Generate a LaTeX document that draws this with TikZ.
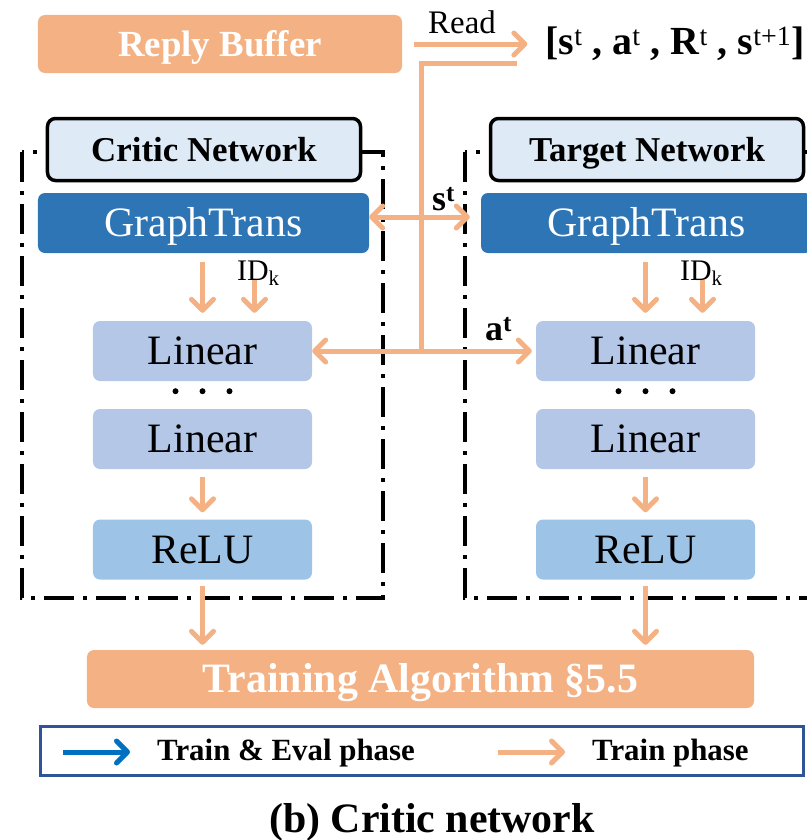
\documentclass[tikz,border=0pt]{standalone}
\usepackage{fontspec}
\setmainfont{Liberation Serif}
\usetikzlibrary{calc,arrows.meta,positioning}

\definecolor{bufOrange}{HTML}{F4B183}
\definecolor{gtBlue}{HTML}{2E75B6}
\definecolor{linBlue}{HTML}{B4C7E7}
\definecolor{reluBlue}{HTML}{9DC3E6}
\definecolor{titleBlue}{HTML}{DEEBF7}
\definecolor{evalBlue}{HTML}{0070C0}
\definecolor{legBorder}{HTML}{2F5597}

\newcommand{\fsz}[1]{\fontsize{#1}{#1}\selectfont}

\begin{document}
\begin{tikzpicture}[x=1bp, y=-1bp, inner sep=0pt,
    >={Straight Barb[length=11bp,width=22bp,round]},
    flow/.style={draw=bufOrange, line width=5bp},
    evalflow/.style={draw=evalBlue, line width=5bp},
    netframe/.style={draw=black, line width=4bp, dash pattern=on 30bp off 9bp on 4bp off 9bp},
    % caps are centred in the box: text height = cap height, no depth
    capbox/.style={text height=#1, text depth=0pt},
    nettitle/.style={capbox=23bp, draw=black, line width=3.5bp, fill=titleBlue, rounded corners=8bp,
        minimum width=313bp, minimum height=62bp, font=\fsz{35}\bfseries},
    gtbox/.style={capbox=27.7bp, fill=gtBlue, text=white, rounded corners=7bp,
        minimum width=331bp, minimum height=60bp, font=\fsz{42}},
    linbox/.style={capbox=27.7bp, fill=linBlue, rounded corners=7bp,
        minimum width=219bp, minimum height=60bp, font=\fsz{42}},
    relubox/.style={linbox, fill=reluBlue},
    orangebox/.style={fill=bufOrange, text=white, rounded corners=7bp, font=\bfseries}]
    \useasboundingbox (0,0) rectangle (807,840);

    % replay buffer and the sampled transition
    \node[orangebox, capbox=24.4bp, minimum width=364bp, minimum height=58bp, font=\fsz{37}\bfseries] (buffer) at (220,44) {Reply Buffer};
    \node[font=\fsz{40}] (tuple) at (675,44) {\textbf{[s}\textsuperscript{t}\textbf{ , a}\textsuperscript{t}\textbf{ , R}\textsuperscript{t}\textbf{ , s}\textsuperscript{t+1}\textbf{]}};
    \node[anchor=base, font=\fsz{33}] (read) at (462,33) {Read};
    \draw[flow, ->, shorten <=12bp, shorten >=18bp] (buffer.east) -- (tuple.west);

    % critic and target columns
    \coordinate (cn) at (203,0);
    \coordinate (tn) at (646,0);

    \draw[netframe] ($(cn)+(-181,152)$) rectangle ($(cn)+(180,598)$);
    \node[nettitle] (cTitle) at ($(cn)+(1,149.5)$) {Critic Network};
    \node[gtbox] (cGT) at ($(cn)+(0.5,223)$) {GraphTrans};
    \node[linbox] (cLin1) at ($(cn)+(-0.5,351)$) {Linear};
    \node[linbox] (cLin2) at ($(cn)+(-0.5,439)$) {Linear};
    \node[relubox] (cReLU) at ($(cn)+(-0.5,549.5)$) {ReLU};
    \node[anchor=base west, font=\fsz{30}] (cID) at ($(cn)+(34,280)$) {ID\textsubscript{k}};
    \foreach \dx in {-27,0,27}
        \fill ($(cLin1.south)+(\dx,10)$) circle (3bp);

    \draw[netframe] ($(tn)+(-181,152)$) rectangle ($(tn)+(180,598)$);
    \node[nettitle] (tTitle) at ($(tn)+(1,149.5)$) {Target Network};
    \node[gtbox] (tGT) at ($(tn)+(0.5,223)$) {GraphTrans};
    \node[linbox] (tLin1) at ($(tn)+(-0.5,351)$) {Linear};
    \node[linbox] (tLin2) at ($(tn)+(-0.5,439)$) {Linear};
    \node[relubox] (tReLU) at ($(tn)+(-0.5,549.5)$) {ReLU};
    \node[anchor=base west, font=\fsz{30}] (tID) at ($(tn)+(34,280)$) {ID\textsubscript{k}};
    \foreach \dx in {-27,0,27}
        \fill ($(tLin1.south)+(\dx,10)$) circle (3bp);

    \node[orangebox, capbox=27.7bp, minimum width=667bp, minimum height=58bp, font=\fsz{42}\bfseries] (train) at (420.5,679) {Training Algorithm §5.5};

    % arrows inside both columns
    \draw[flow, ->, shorten <=9bp, shorten >=8bp] (cLin1.north |- cGT.south) -- (cLin1.north);
    \draw[flow, ->, shorten >=8bp] ($(cLin1.north)+(52,-41)$) -- ($(cLin1.north)+(52,0)$);
    \draw[flow, ->, shorten <=8bp, shorten >=7bp] (cLin2) -- (cReLU);
    \draw[flow, ->, shorten <=6bp, shorten >=5bp] (cReLU.south) -- (cReLU.south |- train.north);

    \draw[flow, ->, shorten <=9bp, shorten >=8bp] (tLin1.north |- tGT.south) -- (tLin1.north);
    \draw[flow, ->, shorten >=8bp] ($(tLin1.north)+(57,-41)$) -- ($(tLin1.north)+(57,0)$);
    \draw[flow, ->, shorten <=8bp, shorten >=7bp] (tLin2) -- (tReLU);
    \draw[flow, ->, shorten <=6bp, shorten >=5bp] (tReLU.south) -- (tReLU.south |- train.north);

    % s^t and a^t fed to both networks
    \coordinate (tapEnd) at (517,63);
    \coordinate (tapCorner) at (421,63);
    \draw[flow] (tapEnd) -- (tapCorner) -- (tapCorner |- cLin1.east);
    \draw[flow, <->, shorten >=11bp] ([yshift=6bp]cGT.east) -- ([yshift=6bp]tGT.west);
    \draw[flow, <->, shorten >=4bp] (cLin1.east) -- (tLin1.west);
    \node[anchor=base west, font=\fsz{36}\bfseries] (sLbl) at (432,210) {s\textsuperscript{t}};
    \node[anchor=base west, font=\fsz{36}\bfseries] (aLbl) at (485,340) {a\textsuperscript{t}};

    % legend
    \node[draw=legBorder, line width=3bp, minimum width=763bp, minimum height=49bp] (legend) at (422,751) {};
    \node[anchor=base west, font=\fsz{31}\bfseries] (evalTxt) at (157,760) {Train \& Eval phase};
    \node[anchor=base west, font=\fsz{31}\bfseries] (trainTxt) at (592,760) {Train phase};
    \draw[evalflow, ->] ($(evalTxt.base west)+(-94,-8)$) -- ($(evalTxt.base west)+(-27,-8)$);
    \draw[flow, ->] ($(trainTxt.base west)+(-94,-8)$) -- ($(trainTxt.base west)+(-27,-8)$);

    \node[anchor=base, font=\fsz{42}\bfseries] (caption) at (432,832) {(b) Critic network};
\end{tikzpicture}
\end{document}
